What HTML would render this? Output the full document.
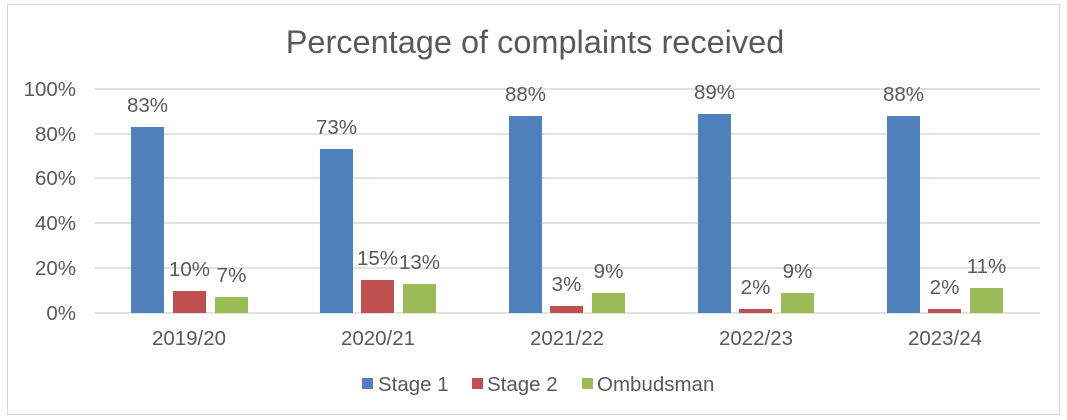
<!DOCTYPE html>
<html><head><meta charset="utf-8"><style>body{margin:0;background:#fff}svg{display:block}text{font-family:"Liberation Sans",Arial,sans-serif;fill:#595959}</style></head><body>
<svg width="1067" height="420" xmlns="http://www.w3.org/2000/svg">
<rect x="7.5" y="4.5" width="1052" height="410" fill="#fff" stroke="#d9d9d9"/>
<text x="535" y="53" font-size="32.5" text-anchor="middle">Percentage of complaints received</text>
<g stroke="#d9d9d9" stroke-width="1.5">
<line x1="95" x2="1040" y1="89" y2="89"/><line x1="95" x2="1040" y1="134" y2="134"/><line x1="95" x2="1040" y1="178" y2="178"/><line x1="95" x2="1040" y1="223" y2="223"/><line x1="95" x2="1040" y1="268" y2="268"/><line x1="95" x2="1040" y1="313" y2="313"/>
</g>
<g font-size="20.5" text-anchor="end">
<text x="76" y="96">100%</text><text x="76" y="141">80%</text><text x="76" y="185">60%</text><text x="76" y="230">40%</text><text x="76" y="275">20%</text><text x="76" y="320">0%</text>
</g>
<g font-size="20.5" text-anchor="middle">
<text x="189" y="345">2019/20</text><text x="378" y="345">2020/21</text><text x="567" y="345">2021/22</text><text x="756" y="345">2022/23</text><text x="945" y="345">2023/24</text>
</g>
<g font-size="20.5" text-anchor="middle">
<rect x="131" y="127" width="33" height="186" fill="#4f81bd"/><text x="147.5" y="112">83%</text>
<rect x="173" y="291" width="33" height="22" fill="#c0504d"/><text x="189.5" y="276">10%</text>
<rect x="215" y="297" width="33" height="16" fill="#9bbb59"/><text x="231.5" y="282">7%</text>
<rect x="320" y="149" width="33" height="164" fill="#4f81bd"/><text x="336.5" y="134">73%</text>
<rect x="361" y="280" width="33" height="33" fill="#c0504d"/><text x="377.5" y="265">15%</text>
<rect x="403" y="284" width="33" height="29" fill="#9bbb59"/><text x="419.5" y="269">13%</text>
<rect x="509" y="116" width="33" height="197" fill="#4f81bd"/><text x="525.5" y="101">88%</text>
<rect x="550" y="306" width="33" height="7" fill="#c0504d"/><text x="566.5" y="291">3%</text>
<rect x="592" y="293" width="33" height="20" fill="#9bbb59"/><text x="608.5" y="278">9%</text>
<rect x="698" y="114" width="33" height="199" fill="#4f81bd"/><text x="714.5" y="99">89%</text>
<rect x="739" y="309" width="33" height="4" fill="#c0504d"/><text x="755.5" y="294">2%</text>
<rect x="781" y="293" width="33" height="20" fill="#9bbb59"/><text x="797.5" y="278">9%</text>
<rect x="887" y="116" width="33" height="197" fill="#4f81bd"/><text x="903.5" y="101">88%</text>
<rect x="928" y="309" width="33" height="4" fill="#c0504d"/><text x="944.5" y="294">2%</text>
<rect x="970" y="288" width="33" height="25" fill="#9bbb59"/><text x="986.5" y="273">11%</text>
</g>
<g font-size="20.5">
<rect x="362" y="378" width="11" height="11" fill="#4f81bd"/><text x="378" y="391">Stage 1</text>
<rect x="472" y="378" width="11" height="11" fill="#c0504d"/><text x="487" y="391">Stage 2</text>
<rect x="582" y="378" width="11" height="11" fill="#9bbb59"/><text x="597" y="391">Ombudsman</text>
</g>
</svg>
</body></html>
